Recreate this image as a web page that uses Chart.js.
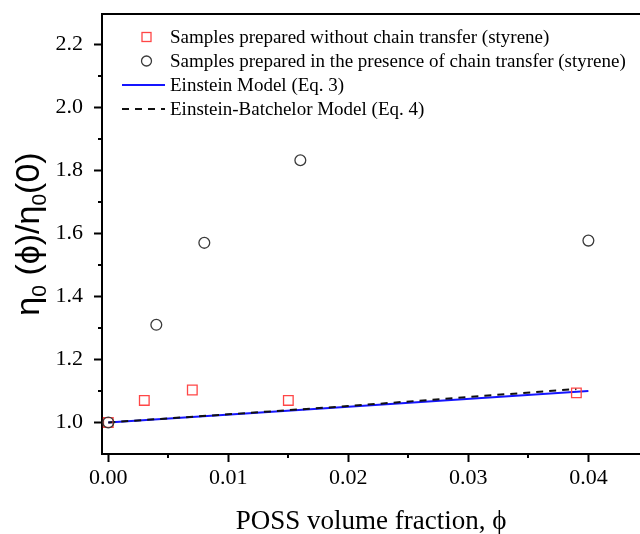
<!DOCTYPE html>
<html>
<head>
<meta charset="utf-8">
<script src="https://cdn.jsdelivr.net/npm/chart.js@4.4.1/dist/chart.umd.min.js"></script>
<style>
  html, body { margin: 0; padding: 0; background: #fff; }
  #wrap { width: 640px; height: 534px; }
</style>
</head>
<body>
<div id="wrap"><canvas id="c" width="640" height="534"></canvas></div>
<script>
// ---- data ----
const phiWithout = [0, 0.003, 0.007, 0.015, 0.039];
const etaWithout = [1.0, 1.07, 1.103, 1.07, 1.094];
const phiWith = [0, 0.004, 0.008, 0.016, 0.04];
const etaWith = [1.0, 1.31, 1.57, 1.832, 1.577];
const phiEinstein = [0, 0.04];
const etaEinstein = [1.0, 1.10];
const phiBatchelor = [0, 0.01, 0.02, 0.03, 0.039];
const etaBatchelor = [1.0, 1.026, 1.052, 1.081, 1.106];

const seriesLabels = [
  'Samples prepared without chain transfer (styrene)',
  'Samples prepared in the presence of chain transfer (styrene)',
  'Einstein Model (Eq. 3)',
  'Einstein-Batchelor Model (Eq. 4)'
];
const xTitle = 'POSS volume fraction, \u03D5';
const xMajorTicks = [0, 0.01, 0.02, 0.03, 0.04];
const xMinorTicks = [0.005, 0.015, 0.025, 0.035];
const xTickLabels = ['0.00', '0.01', '0.02', '0.03', '0.04'];
const yMajorTicks = [1.0, 1.2, 1.4, 1.6, 1.8, 2.0, 2.2];
const yMinorTicks = [1.1, 1.3, 1.5, 1.7, 1.9, 2.1];
const yTickLabels = ['1.0', '1.2', '1.4', '1.6', '1.8', '2.0', '2.2'];

const zip = (xs, ys) => xs.map((x, i) => ({ x: x, y: ys[i] }));

const RED = 'rgb(255,70,70)';
const CIRC = '#3a3a3a';
const BLUE = '#1515ff';

const SERIF = '"Liberation Serif", "Times New Roman", serif';
const SANS = '"Liberation Sans", Arial, sans-serif';

function nearIdx(arr, v) {
  for (let i = 0; i < arr.length; i++) if (Math.abs(arr[i] - v) < 1e-9) return i;
  return -1;
}

const framePlugin = {
  id: 'frame',
  afterDraw(chart) {
    const ctx = chart.ctx;
    const a = chart.chartArea;
    const xs = chart.scales.x, ys = chart.scales.y;
    ctx.save();
    ctx.strokeStyle = '#000';
    ctx.lineWidth = 2;
    // top border
    ctx.beginPath();
    ctx.moveTo(a.left - 1, a.top);
    ctx.lineTo(a.right, a.top);
    ctx.stroke();
    // minor ticks
    ctx.beginPath();
    xMinorTicks.forEach(v => {
      const px = Math.round(xs.getPixelForValue(v));
      ctx.moveTo(px, a.bottom);
      ctx.lineTo(px, a.bottom + 4);
    });
    yMinorTicks.forEach(v => {
      const py = Math.round(ys.getPixelForValue(v));
      ctx.moveTo(a.left, py);
      ctx.lineTo(a.left - 4, py);
    });
    ctx.stroke();

    // y axis title with subscripts
    ctx.translate(29, 234);
    ctx.rotate(-Math.PI / 2);
    ctx.fillStyle = '#000';
    ctx.textBaseline = 'alphabetic';
    const big = '34px ' + SANS, small = '21px ' + SANS;
    const parts = [
      ['\u03B7', big, 0], ['0', small, 7], [' (\u03D5)/', big, 0],
      ['\u03B7', big, 0], ['0', small, 7], ['(0)', big, 0]
    ];
    let total = 0;
    parts.forEach(p => { ctx.font = p[1]; total += ctx.measureText(p[0]).width; });
    let x = -total / 2;
    parts.forEach(p => {
      ctx.font = p[1];
      ctx.fillText(p[0], x, 10 + p[2]);
      x += ctx.measureText(p[0]).width;
    });
    ctx.restore();

    // legend inside plot
    ctx.save();
    const rows = [37, 61, 85, 109];
    const mx = 146.5, tx = 170;
    ctx.font = '19px ' + SERIF;
    ctx.fillStyle = '#000';
    ctx.textBaseline = 'middle';
    chart.data.datasets.forEach((ds, i) => {
      const y = rows[i];
      if (i === 0) {
        ctx.strokeStyle = RED; ctx.lineWidth = 1.3;
        ctx.strokeRect(mx - 4.5, y - 4.5, 9, 9);
      } else if (i === 1) {
        ctx.strokeStyle = CIRC; ctx.lineWidth = 1.3;
        ctx.beginPath(); ctx.arc(mx, y, 5, 0, Math.PI * 2); ctx.stroke();
      } else {
        ctx.strokeStyle = ds.borderColor; ctx.lineWidth = 2;
        ctx.setLineDash(ds.borderDash || []);
        ctx.beginPath(); ctx.moveTo(122, y); ctx.lineTo(165, y); ctx.stroke();
        ctx.setLineDash([]);
      }
      ctx.fillText(ds.label, tx, y + 1);
    });
    ctx.restore();
  }
};

new Chart(document.getElementById('c'), {
  type: 'scatter',
  data: {
    datasets: [
      {
        label: seriesLabels[0], data: zip(phiWithout, etaWithout),
        pointStyle: 'rect', pointRadius: 6.8, pointHoverRadius: 6.8,
        borderColor: RED, backgroundColor: 'rgba(0,0,0,0)', pointBorderWidth: 1.3, order: 2
      },
      {
        label: seriesLabels[1], data: zip(phiWith, etaWith),
        pointStyle: 'circle', pointRadius: 5.4, pointHoverRadius: 5.4,
        borderColor: CIRC, backgroundColor: 'rgba(0,0,0,0)', pointBorderWidth: 1.3, order: 1
      },
      {
        label: seriesLabels[2], data: zip(phiEinstein, etaEinstein), showLine: true,
        pointRadius: 0, borderColor: BLUE, borderWidth: 2, order: 4
      },
      {
        label: seriesLabels[3], data: zip(phiBatchelor, etaBatchelor), showLine: true,
        pointRadius: 0, borderColor: '#111', borderWidth: 2, borderDash: [7, 6], order: 3
      }
    ]
  },
  options: {
    responsive: false,
    devicePixelRatio: 1,
    animation: false,
    events: [],
    layout: { autoPadding: false, padding: { top: 14, right: 0, left: 0, bottom: 0 } },
    plugins: { legend: { display: false }, tooltip: { enabled: false } },
    scales: {
      x: {
        type: 'linear', min: -0.000525, max: 0.0443,
        afterFit(s) { s.height = 80; s.paddingLeft = 0; s.paddingRight = 0; },
        afterBuildTicks(s) { s.ticks = xMajorTicks.map(v => ({ value: v })); },
        ticks: {
          autoSkip: false, maxRotation: 0, padding: 3, color: '#000',
          font: { family: SERIF, size: 22 },
          callback: (v) => { const i = nearIdx(xMajorTicks, v); return i >= 0 ? xTickLabels[i] : ''; }
        },
        grid: { display: true, drawOnChartArea: false, drawTicks: true, tickLength: 8, tickWidth: 2, tickColor: '#000' },
        border: { display: true, color: '#000', width: 2 },
        title: { display: true, text: xTitle, color: '#000', font: { family: SERIF, size: 27 }, padding: { top: 0, bottom: -4 } }
      },
      y: {
        type: 'linear', min: 0.9, max: 2.296,
        afterFit(s) { s.width = 102; s.paddingTop = 0; s.paddingBottom = 0; },
        afterBuildTicks(s) { s.ticks = yMajorTicks.map(v => ({ value: v })); },
        ticks: {
          autoSkip: false, padding: 11, color: '#000',
          font: { family: SERIF, size: 22 },
          callback: (v) => { const i = nearIdx(yMajorTicks, v); return i >= 0 ? yTickLabels[i] : ''; }
        },
        grid: { display: true, drawOnChartArea: false, drawTicks: true, tickLength: 8, tickWidth: 2, tickColor: '#000' },
        border: { display: true, color: '#000', width: 2 }
      }
    }
  },
  plugins: [framePlugin]
});
</script>
</body>
</html>
